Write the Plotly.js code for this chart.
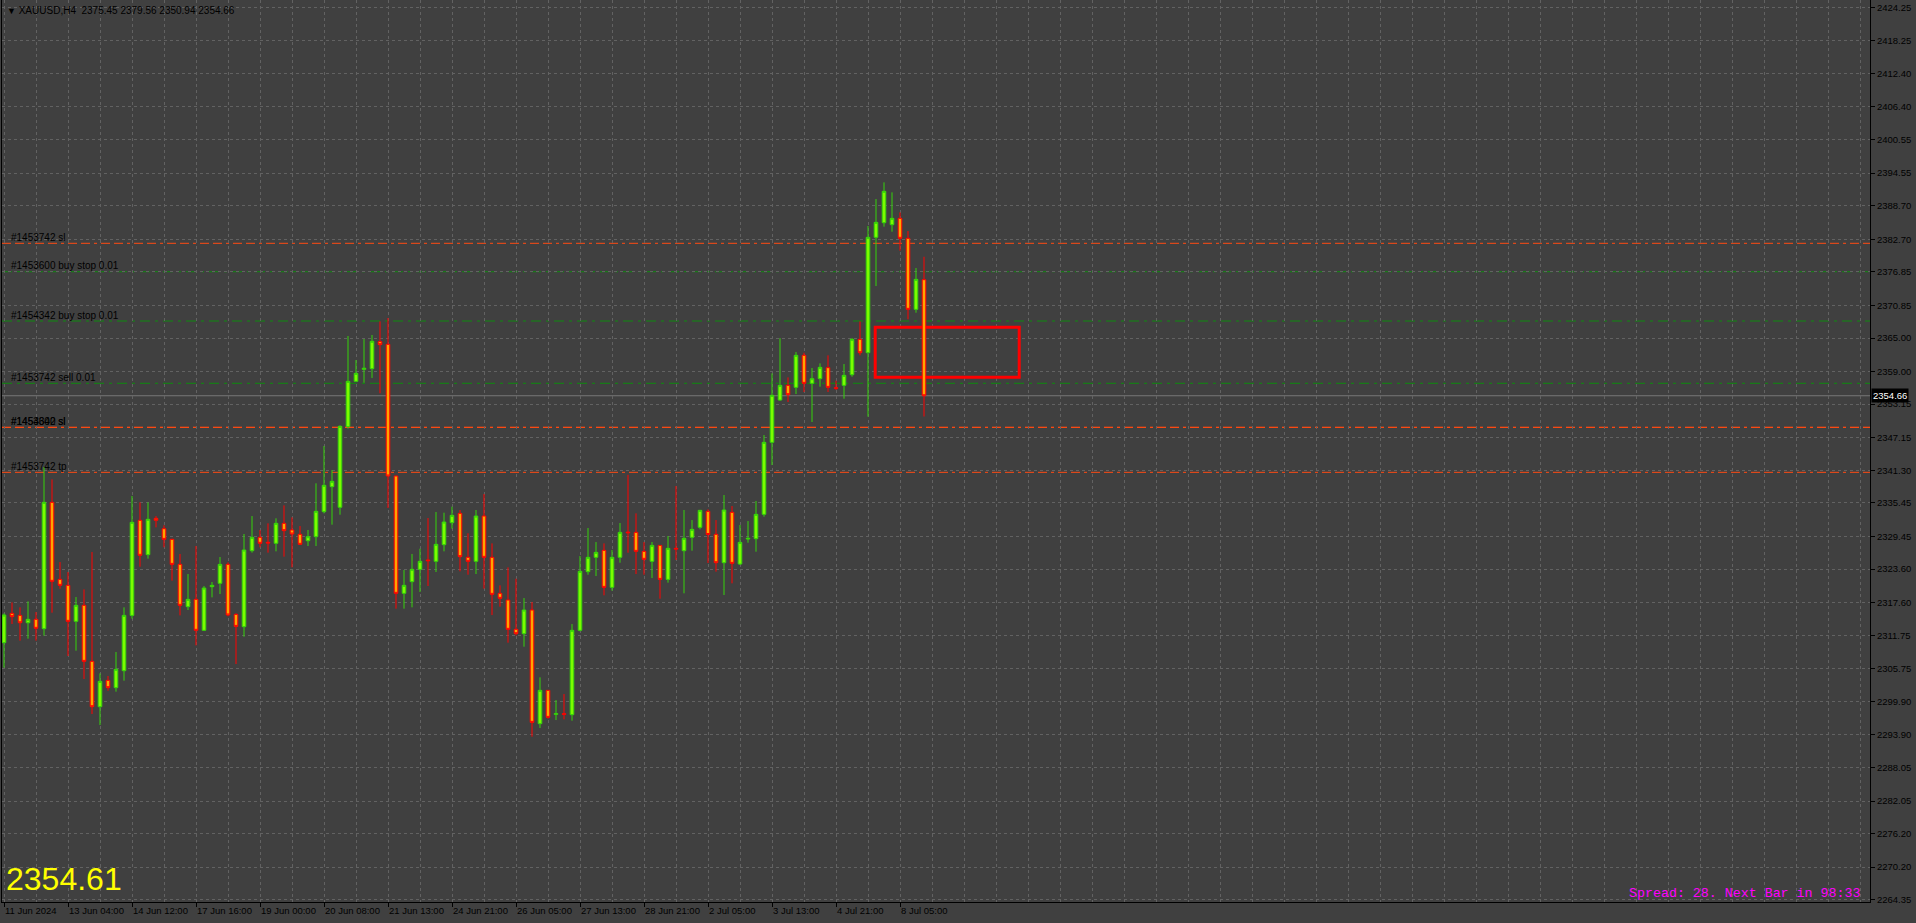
<!DOCTYPE html>
<html>
<head>
<meta charset="utf-8">
<script src="https://cdn.plot.ly/plotly-3.0.1.min.js"></script>
<style>
  html, body { margin: 0; padding: 0; background: #404040; }
  #chart { width: 1916px; height: 923px; }
</style>
</head>
<body>
<div id="chart"></div>
<script>
// ---- Data (H4 bars, oldest -> newest) ----
const opens = [
  2310.42, 2315.67, 2315.31, 2313.99, 2314.60, 2312.93, 2335.56, 2321.76, 2320.69, 2314.24,
  2317.11, 2307.07, 2298.95, 2303.67, 2302.36, 2305.40, 2315.31, 2332.34, 2326.19, 2332.70,
  2330.84, 2328.93, 2324.45, 2316.87, 2318.18, 2312.63, 2320.45, 2321.05, 2324.45, 2315.49,
  2313.29, 2326.90, 2329.29, 2328.40, 2328.22, 2331.80, 2330.61, 2329.83, 2328.69, 2329.41,
  2333.89, 2338.37, 2334.67, 2349.12, 2357.24, 2359.39, 2359.51, 2364.35, 2363.87, 2340.28,
  2319.26, 2321.35, 2323.56, 2325.23, 2324.99, 2327.98, 2331.92, 2333.59, 2325.71, 2324.99,
  2333.11, 2325.71, 2319.26, 2318.06, 2312.81, 2312.03, 2316.27, 2295.91, 2301.88, 2297.58,
  2297.70, 2297.52, 2312.63, 2323.14, 2325.71, 2326.96, 2320.33, 2325.71, 2330.24, 2330.18,
  2326.78, 2324.99, 2327.85, 2321.76, 2327.32, 2326.90, 2329.29, 2331.08, 2333.95, 2329.83,
  2324.75, 2333.77, 2324.51, 2328.99, 2329.05, 2333.41, 2346.31, 2353.89, 2356.52, 2356.16,
  2361.90, 2356.88, 2357.72, 2359.69, 2356.10, 2356.52, 2358.43, 2364.76, 2362.37, 2383.04,
  2385.66, 2385.31, 2386.44, 2382.86, 2370.14, 2375.45
];
const highs = [
  2315.67, 2317.64, 2316.75, 2317.82, 2315.91, 2341.90, 2339.68, 2324.87, 2323.08, 2318.60,
  2319.97, 2326.66, 2304.92, 2304.45, 2308.75, 2316.75, 2336.70, 2335.56, 2335.56, 2333.11,
  2331.44, 2329.05, 2326.31, 2322.72, 2327.74, 2320.57, 2321.29, 2325.77, 2324.81, 2315.67,
  2329.89, 2333.11, 2330.61, 2331.80, 2332.70, 2335.02, 2332.87, 2331.32, 2330.61, 2338.97,
  2345.65, 2341.35, 2349.36, 2365.36, 2361.06, 2364.82, 2365.54, 2367.99, 2368.59, 2340.30,
  2323.44, 2326.31, 2327.26, 2332.75, 2333.83, 2333.71, 2334.79, 2334.19, 2330.01, 2334.19,
  2337.05, 2328.21, 2320.69, 2323.91, 2321.88, 2318.42, 2317.70, 2304.21, 2301.90, 2300.14,
  2301.22, 2313.76, 2325.94, 2330.96, 2328.45, 2328.21, 2327.02, 2331.86, 2340.50, 2333.59,
  2328.45, 2328.45, 2327.90, 2329.53, 2338.48, 2334.19, 2332.39, 2334.20, 2334.31, 2332.39,
  2336.87, 2334.90, 2331.50, 2332.21, 2335.80, 2347.62, 2358.67, 2364.98, 2357.95, 2362.49,
  2362.37, 2359.63, 2360.46, 2361.90, 2357.36, 2360.34, 2365.00, 2367.99, 2385.07, 2389.90,
  2392.89, 2391.10, 2387.52, 2384.17, 2377.54, 2379.56
];
const lows = [
  2305.94, 2313.76, 2310.78, 2311.14, 2310.78, 2311.67, 2315.79, 2320.09, 2308.03, 2308.98,
  2303.91, 2297.64, 2295.67, 2301.82, 2301.64, 2303.61, 2314.72, 2324.03, 2325.47, 2331.08,
  2327.50, 2321.53, 2315.31, 2316.27, 2309.94, 2312.50, 2318.54, 2319.14, 2315.14, 2306.60,
  2311.49, 2326.55, 2327.50, 2326.55, 2326.78, 2325.83, 2323.92, 2327.92, 2327.74, 2327.74,
  2333.59, 2331.56, 2333.35, 2348.76, 2357.20, 2357.00, 2357.84, 2355.09, 2334.55, 2316.51,
  2316.51, 2316.75, 2319.50, 2320.57, 2323.08, 2326.78, 2330.84, 2323.20, 2322.60, 2322.72,
  2320.09, 2315.37, 2316.87, 2310.42, 2311.73, 2309.70, 2293.58, 2295.13, 2296.80, 2296.56,
  2296.68, 2296.44, 2312.45, 2322.60, 2322.36, 2318.90, 2319.73, 2324.75, 2326.54, 2322.72,
  2322.60, 2322.00, 2318.30, 2321.17, 2325.23, 2319.26, 2326.90, 2330.72, 2324.70, 2323.14,
  2318.96, 2321.05, 2324.33, 2328.33, 2326.72, 2332.99, 2342.25, 2353.77, 2353.54, 2354.97,
  2355.33, 2349.95, 2356.28, 2355.33, 2355.69, 2354.13, 2358.07, 2361.90, 2350.91, 2374.32,
  2384.95, 2384.05, 2380.65, 2368.35, 2369.54, 2350.94
];
const closes = [
  2315.38, 2315.08, 2313.99, 2314.60, 2312.99, 2335.56, 2321.41, 2320.69, 2314.24, 2317.11,
  2307.07, 2298.95, 2303.49, 2302.36, 2305.64, 2315.31, 2331.98, 2326.07, 2332.52, 2332.34,
  2328.93, 2324.45, 2317.11, 2318.18, 2312.63, 2320.21, 2320.69, 2324.45, 2315.38, 2313.34,
  2327.02, 2329.29, 2328.22, 2328.28, 2331.80, 2330.49, 2329.89, 2328.04, 2329.41, 2333.95,
  2338.61, 2339.32, 2349.18, 2357.24, 2358.67, 2359.57, 2364.41, 2363.81, 2340.28, 2319.26,
  2320.69, 2323.56, 2324.99, 2325.11, 2328.04, 2332.04, 2333.23, 2325.83, 2324.99, 2333.11,
  2325.71, 2319.08, 2318.36, 2312.81, 2312.03, 2316.27, 2296.14, 2301.88, 2297.04, 2297.70,
  2297.58, 2312.63, 2323.20, 2325.71, 2326.60, 2320.33, 2325.71, 2330.18, 2330.12, 2326.78,
  2325.35, 2327.85, 2321.76, 2327.32, 2327.20, 2329.11, 2330.72, 2334.13, 2329.80, 2324.75,
  2334.19, 2324.63, 2328.39, 2329.11, 2333.41, 2346.31, 2354.73, 2356.52, 2354.85, 2361.90,
  2356.88, 2357.72, 2359.75, 2356.16, 2355.98, 2358.31, 2364.76, 2362.37, 2383.04, 2385.72,
  2391.28, 2386.44, 2382.86, 2370.14, 2375.51, 2354.66
];

// Time-axis labels (one every labelStep bars, starting at the first bar)
const timeLabels = [
  "11 Jun 2024", "13 Jun 04:00", "14 Jun 12:00", "17 Jun 16:00", "19 Jun 00:00",
  "20 Jun 08:00", "21 Jun 13:00", "24 Jun 21:00", "26 Jun 05:00", "27 Jun 13:00",
  "28 Jun 21:00", "2 Jul 05:00", "3 Jul 13:00", "4 Jul 21:00", "8 Jul 05:00"
];
const labelStep = 8;
const gridStep = 4;

// Price scale labels
const priceTicks = [
  2424.25, 2418.25, 2412.40, 2406.40, 2400.55, 2394.55, 2388.70, 2382.70, 2376.85, 2370.85,
  2365.00, 2359.00, 2353.15, 2347.15, 2341.30, 2335.45, 2329.45, 2323.60, 2317.60, 2311.75,
  2305.75, 2299.90, 2293.90, 2288.05, 2282.05, 2276.20, 2270.20, 2264.35
];
const priceRange = [2263.96, 2425.56];
const barRange = [-0.25, 233.25];

// Order lines
const orderNames  = ["#1453742 sl", "#1453600 buy stop 0.01", "#1454342 buy stop 0.01",
                     "#1453742 sell 0.01", "#1453600 sl", "#1454342 sl", "#1453742 tp"];
const orderPrices = [2381.97, 2376.88, 2368.05, 2356.89, 2349.00, 2349.00, 2340.94];
const orderKinds  = ["stop", "order", "order", "order", "stop", "stop", "stop"];

// Current quotes
const bidPrice = 2354.66;
const infoPrice = "2354.61";
const headerText = "XAUUSD,H4\u00A0\u00A02375.45 2379.56 2350.94 2354.66";
const spreadText = "Spread: 28. Next Bar in 98:33";

// Highlighted zone (bar-index and price bounds)
const zoneBars = [108.9, 126.9];
const zonePrices = [2357.96, 2366.92];

// ---- Build ----
const xs = opens.map((_, i) => i);
const BG = '#404040';
const GRID = '#626262';
const FONT = 'Liberation Sans, Arial, sans-serif';

const candle = {
  type: 'candlestick',
  x: xs, open: opens, high: highs, low: lows, close: closes,
  increasing: { line: { color: '#35D20A', width: 1 }, fillcolor: '#7CFC00' },
  decreasing: { line: { color: '#FF0000', width: 1 }, fillcolor: '#FFA500' },
  whiskerwidth: 0,
  hoverinfo: 'skip',
  showlegend: false
};

const shapes = [];
const annotations = [];

orderPrices.forEach((p, k) => {
  const isStop = orderKinds[k] === 'stop';
  shapes.push({
    type: 'line', xref: 'paper', x0: 0, x1: 1, yref: 'y', y0: p, y1: p,
    layer: 'between',
    line: isStop ? { color: '#FF4A12', width: 1, dash: '9px,4px,9px,4px,3px,4px' }
                 : { color: '#0E8A0E', width: 1, dash: '10px,5px,3px,5px' }
  });
  annotations.push({
    xref: 'paper', x: 0, xanchor: 'left', xshift: 7,
    yref: 'y', y: p, yanchor: 'middle', yshift: 6,
    text: orderNames[k], showarrow: false,
    font: { family: FONT, size: 10, color: '#000000' }
  });
});

// bid line
shapes.push({
  type: 'line', xref: 'paper', x0: 0, x1: 1, yref: 'y', y0: bidPrice, y1: bidPrice,
  layer: 'between', line: { color: '#767676', width: 1 }
});

// zone rectangle
shapes.push({
  type: 'rect', xref: 'x', x0: zoneBars[0], x1: zoneBars[1],
  yref: 'y', y0: zonePrices[0], y1: zonePrices[1],
  layer: 'between', line: { color: '#FF0000', width: 3 }, fillcolor: 'rgba(0,0,0,0)'
});

// bid label on price scale
annotations.push({
  xref: 'paper', x: 1, xanchor: 'left', xshift: 1,
  yref: 'y', y: bidPrice, yanchor: 'middle',
  text: bidPrice.toFixed(2), showarrow: false, bgcolor: '#000000', borderpad: 1,
  font: { family: FONT, size: 9.5, color: '#FFFFFF' }
});

// header
annotations.push({
  xref: 'paper', x: 0, xanchor: 'left', xshift: 3,
  yref: 'paper', y: 1, yanchor: 'top', yshift: -3,
  text: '<span style="font-size:9px">\u25BC</span>\u00A0' + headerText, showarrow: false,
  font: { family: FONT, size: 10, color: '#000000' }
});

// big price
annotations.push({
  xref: 'paper', x: 0, xanchor: 'left', xshift: 2,
  yref: 'paper', y: 0, yanchor: 'middle', yshift: 23,
  text: infoPrice, showarrow: false,
  font: { family: FONT, size: 32, color: '#FFFF00' }
});

// spread info
annotations.push({
  xref: 'paper', x: 1, xanchor: 'right', xshift: -8,
  yref: 'paper', y: 0, yanchor: 'middle', yshift: 9,
  text: spreadText, showarrow: false,
  font: { family: 'Liberation Mono, Courier New, monospace', size: 13.3, color: '#FF00FF' }
});

const layout = {
  width: 1916, height: 923,
  margin: { l: 2, r: 46, t: 0, b: 21, pad: 0 },
  paper_bgcolor: BG, plot_bgcolor: BG,
  showlegend: false,
  boxgap: 0.36,
  font: { family: FONT, size: 9.5, color: '#000000' },
  xaxis: {
    range: barRange, fixedrange: true,
    rangeslider: { visible: false },
    tickmode: 'array',
    tickvals: timeLabels.map((_, k) => k * labelStep),
    ticktext: timeLabels,
    ticks: 'outside', ticklen: 4, tickcolor: '#000000', tickwidth: 1,
    ticklabelposition: 'outside right',
    tickfont: { family: FONT, size: 9.5, color: '#000000' },
    showgrid: true, gridcolor: GRID, griddash: '3px,3px', gridwidth: 1,
    minor: { tickmode: 'linear', tick0: 0, dtick: gridStep, showgrid: true,
             gridcolor: GRID, griddash: '3px,3px', gridwidth: 1, ticklen: 0 },
    showline: true, linecolor: '#000000', linewidth: 1, mirror: false,
    zeroline: false
  },
  yaxis: {
    side: 'right', range: priceRange, fixedrange: true,
    tickmode: 'array', tickvals: priceTicks,
    ticktext: priceTicks.map(v => v.toFixed(2)),
    ticks: 'outside', ticklen: 4, tickcolor: '#000000', tickwidth: 1,
    tickfont: { family: FONT, size: 9.5, color: '#000000' },
    showgrid: true, gridcolor: GRID, griddash: '3px,3px', gridwidth: 1,
    showline: true, linecolor: '#000000', linewidth: 1, mirror: true,
    zeroline: false
  },
  shapes: shapes,
  annotations: annotations
};

Plotly.newPlot('chart', [candle], layout, { staticPlot: true, displayModeBar: false });
</script>
</body>
</html>
